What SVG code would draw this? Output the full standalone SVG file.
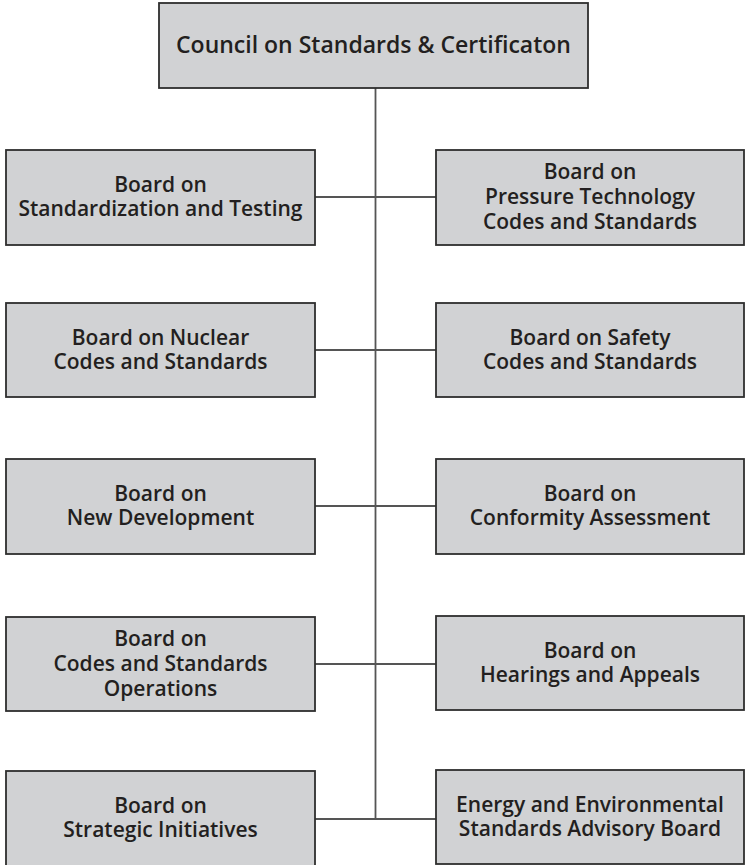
<svg xmlns="http://www.w3.org/2000/svg" width="745" height="865" viewBox="0 0 745 865">
<style>
.box{fill:#d1d2d4;stroke:#2e2e2e;stroke-width:1.8}
.t{font-family:"Open Sans",Lato,"DejaVu Sans",sans-serif;font-size:21px;font-weight:600;fill:#231f20;text-anchor:middle}
.tt{font-size:23px}
.c{stroke:#555555;stroke-width:1.8;fill:none}
</style>
<rect width="745" height="865" fill="#ffffff"/>
<g id="connectors">
<line class="c" x1="375.5" y1="88" x2="375.5" y2="819"/>
<line class="c" x1="315" y1="197" x2="436" y2="197"/>
<line class="c" x1="315" y1="350" x2="436" y2="350"/>
<line class="c" x1="315" y1="506" x2="436" y2="506"/>
<line class="c" x1="315" y1="664" x2="436" y2="664"/>
<line class="c" x1="315" y1="819" x2="436" y2="819"/>
</g>
<g id="council">
<rect class="box" x="159" y="3" width="429" height="85"/>
<text class="t tt" x="373.5" y="53">Council on Standards &amp; Certificaton</text>
</g>
<g id="standardization">
<rect class="box" x="6" y="150" width="309" height="95"/>
<text class="t" y="192"><tspan x="160.5">Board on</tspan><tspan x="160.5" dy="24">Standardization and Testing</tspan></text>
</g>
<g id="pressure">
<rect class="box" x="436" y="150" width="308" height="95"/>
<text class="t" y="179"><tspan x="590">Board on</tspan><tspan x="590" dy="25">Pressure Technology</tspan><tspan x="590" dy="25">Codes and Standards</tspan></text>
</g>
<g id="nuclear">
<rect class="box" x="6" y="303" width="309" height="94"/>
<text class="t" y="345"><tspan x="160.5">Board on Nuclear</tspan><tspan x="160.5" dy="24">Codes and Standards</tspan></text>
</g>
<g id="safety">
<rect class="box" x="436" y="303" width="308" height="94"/>
<text class="t" y="345"><tspan x="590">Board on Safety</tspan><tspan x="590" dy="24">Codes and Standards</tspan></text>
</g>
<g id="newdev">
<rect class="box" x="6" y="459" width="309" height="95"/>
<text class="t" y="501"><tspan x="160.5">Board on</tspan><tspan x="160.5" dy="24">New Development</tspan></text>
</g>
<g id="conformity">
<rect class="box" x="436" y="459" width="308" height="95"/>
<text class="t" y="501"><tspan x="590">Board on</tspan><tspan x="590" dy="24">Conformity Assessment</tspan></text>
</g>
<g id="operations">
<rect class="box" x="6" y="617" width="309" height="94"/>
<text class="t" y="646"><tspan x="160.5">Board on</tspan><tspan x="160.5" dy="25">Codes and Standards</tspan><tspan x="160.5" dy="25">Operations</tspan></text>
</g>
<g id="hearings">
<rect class="box" x="436" y="616" width="308" height="94"/>
<text class="t" y="658"><tspan x="590">Board on</tspan><tspan x="590" dy="24">Hearings and Appeals</tspan></text>
</g>
<g id="strategic">
<rect class="box" x="6" y="771" width="309" height="96"/>
<text class="t" y="813"><tspan x="160.5">Board on</tspan><tspan x="160.5" dy="24">Strategic Initiatives</tspan></text>
</g>
<g id="energy">
<rect class="box" x="436" y="770" width="308" height="94"/>
<text class="t" y="812"><tspan x="590">Energy and Environmental</tspan><tspan x="590" dy="24">Standards Advisory Board</tspan></text>
</g>
</svg>
